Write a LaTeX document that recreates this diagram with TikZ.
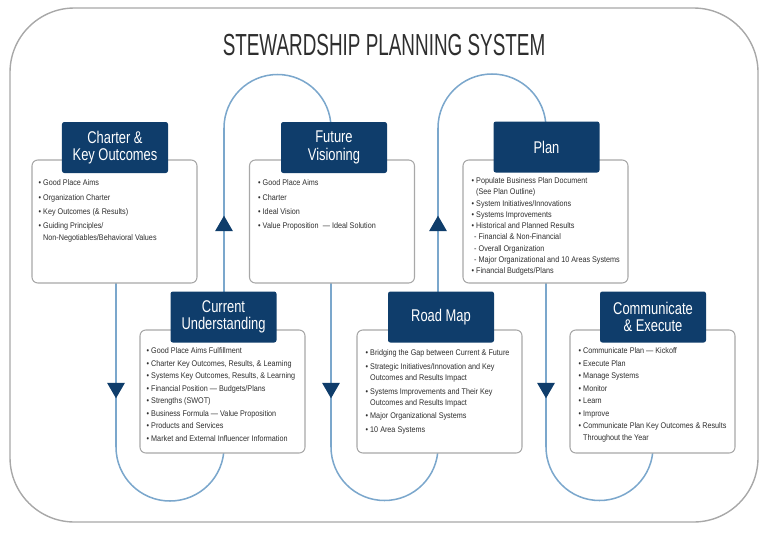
\documentclass[tikz,border=0pt]{standalone}
\usepackage{fontspec}
\setmainfont{Liberation Sans}
\usetikzlibrary{shapes.geometric, positioning, calc}
\definecolor{navy}{HTML}{0F3D6B}
\definecolor{loopblue}{HTML}{7BA7CC}
\definecolor{frame}{HTML}{A8A8A8}
\definecolor{ink}{HTML}{2E2E2E}
\tikzstyle{panel} = [rectangle, draw=frame, line width=0.9pt, rounded corners=5pt, fill=white, minimum width=4.95cm, minimum height=3.69cm]
\tikzstyle{head} = [rectangle, rounded corners=2pt, fill=navy, text=white, align=center, minimum width=3.18cm, minimum height=1.53cm, inner sep=1pt, font=\fontsize{14.5}{15}\selectfont\addfontfeature{FakeStretch=0.76}]
\tikzstyle{items} = [anchor=north west, align=left, text=ink, inner sep=0pt, font=\fontsize{7}{9.6}\selectfont\addfontfeature{FakeStretch=0.88}]
\tikzstyle{flow} = [draw=loopblue, line width=1.3pt]
\tikzstyle{tipdown} = [regular polygon, regular polygon sides=3, shape border rotate=180, fill=navy, inner sep=0pt, minimum size=0.62cm]
\tikzstyle{tipup} = [regular polygon, regular polygon sides=3, fill=navy, inner sep=0pt, minimum size=0.62cm]

\begin{document}
\begin{tikzpicture}[x=0.03cm, y=-0.03cm]
	\useasboundingbox (0,0) rectangle (768,532);

	% Frame and title
	\draw[frame, line width=1.2pt, rounded corners=55pt] (10,8) rectangle (758,522);
	\node (title) at (384,45) [text=ink, font=\fontsize{26}{28}\selectfont\addfontfeature{FakeStretch=0.62}] {STEWARDSHIP PLANNING SYSTEM};

	% Loop
	\draw[flow] (116,283) -- (116,447) arc(180:0:54) -- (224,128) arc(180:360:53.5)
		-- (331,447) arc(180:0:53.5) -- (438,128) arc(180:360:54)
		-- (546,447) arc(180:0:53.5) -- (653,440);

	% Arrow tips
	\node (tip1) [tipdown] at (116,388) {};
	\node (tip2) [tipup] at (224,226) {};
	\node (tip3) [tipdown] at (331,388) {};
	\node (tip4) [tipup] at (438,226) {};
	\node (tip5) [tipdown] at (546,388) {};

	% Panels
	\node (charter) [panel] at (114.5,221.5) {};
	\node (future)  [panel] at (332,221.5) {};
	\node (plan)    [panel] at (545.5,221.5) {};
	\node (current) [panel] at (222.5,391.5) {};
	\node (roadmap) [panel] at (439.5,391.5) {};
	\node (execute) [panel] at (652.5,391.5) {};

	% Headers
	\node (charter_head) [head] at (115,147.5) {Charter \&\\Key Outcomes};
	\node (future_head)  [head] at (334,147.5) {Future\\Visioning};
	\node (plan_head)    [head] at (546.5,147) {Plan};
	\node (current_head) [head] at (223.5,317) {Current\\Understanding};
	\node (roadmap_head) [head] at (441,317) {Road Map};
	\node (execute_head) [head] at (653,317) {Communicate\\\& Execute};

	% Lists
	\node (charter_list) [items] at ($(charter.north west)+(7,20)$) {%
		• Good Place Aims\\[2.7pt] • Organization Charter\\[2.7pt] • Key Outcomes (\& Results)\\[2.7pt]
		• Guiding Principles/\\\hphantom{• }Non-Negotiables/Behavioral Values};
	\node (future_list) [items] at ($(future.north west)+(9,20)$) {%
		• Good Place Aims\\[2.7pt] • Charter\\[2.7pt] • Ideal Vision\\[2.7pt] • Value Proposition\enspace— Ideal Solution};
	\node (plan_list) [items] at ($(plan.north west)+(9,18)$) {%
		• Populate Business Plan Document\\\hphantom{• }(See Plan Outline)\\ • System Initiatives/Innovations\\
		• Systems Improvements\\ • Historical and Planned Results\\ \hphantom{•}- Financial \& Non-Financial\\
		\hphantom{•}- Overall Organization\\ \hphantom{•}- Major Organizational and 10 Areas Systems\\ • Financial Budgets/Plans};
	\node (current_list) [items] at ($(current.north west)+(7,18)$) {%
		• Good Place Aims Fulfillment\\[1.1pt] • Charter Key Outcomes, Results, \& Learning\\[1.1pt]
		• Systems Key Outcomes, Results, \& Learning\\[1.1pt] • Financial Position — Budgets/Plans\\[1.1pt]
		• Strengths (SWOT)\\[1.1pt] • Business Formula — Value Proposition\\[1.1pt] • Products and Services\\[1.1pt]
		• Market and External Influencer Information};
	\node (roadmap_list) [items] at ($(roadmap.north west)+(9,20)$) {%
		• Bridging the Gap between Current \& Future\\[2pt] • Strategic Initiatives/Innovation and Key\\\hphantom{• }Outcomes and Results Impact\\[2pt]
		• Systems Improvements and Their Key\\\hphantom{• }Outcomes and Results Impact\\[2pt] • Major Organizational Systems\\[2pt] • 10 Area Systems};
	\node (execute_list) [items] at ($(execute.north west)+(9,18)$) {%
		• Communicate Plan — Kickoff\\[1.1pt] • Execute Plan\\[1.1pt] • Manage Systems\\[1.1pt] • Monitor\\[1.1pt] • Learn\\[1.1pt] • Improve\\[1.1pt]
		• Communicate Plan Key Outcomes \& Results\\\hphantom{• }Throughout the Year};

\end{tikzpicture}
\end{document}
